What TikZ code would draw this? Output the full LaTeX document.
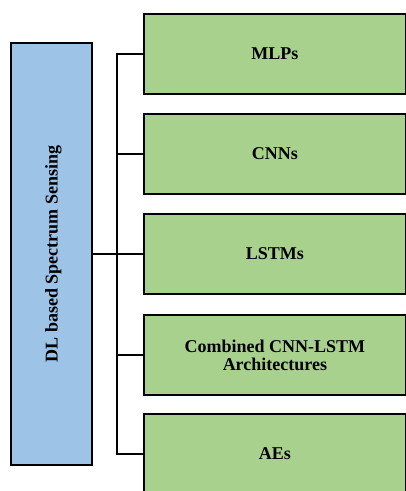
\documentclass[tikz,border=0pt]{standalone}
\usepackage{fontspec}
\setmainfont{Liberation Serif}
\begin{document}
\begin{tikzpicture}[x=1pt,y=-1pt,
  catbox/.style={draw=black, line width=1.8pt, fill=catgreen, minimum width=262pt, minimum height=80pt, anchor=north west, inner sep=2pt, align=center, font=\fontsize{18}{18}\selectfont\bfseries},
  rootbox/.style={draw=black, line width=1.8pt, fill=rootblue, minimum width=81pt, minimum height=422pt, anchor=north west, inner sep=0pt},
  link/.style={draw=black, line width=1.3pt}]
\definecolor{rootblue}{HTML}{9DC3E6}
\definecolor{catgreen}{HTML}{A9D18E}
\useasboundingbox (0,0) rectangle (406,491);
\clip (0,0) rectangle (406,491);
% root box with vertical title
\node[rootbox] (root) at (10,42) {};
\node[rotate=90, font=\fontsize{18}{18}\selectfont\bfseries] (title) at ([xshift=2pt]root.center) {DL based Spectrum Sensing};
% category boxes
\node[catbox] (mlp) at (143,13) {MLPs};
\node[catbox] (cnn) at (143,113) {CNNs};
\node[catbox] (lstm) at (143,213) {LSTMs};
\node[catbox] (comb) at (143,314) {Combined CNN-LSTM\\Architectures};
\node[catbox] (ae) at (143,413) {AEs};
% tree connectors
\coordinate (trunk) at (117,0);
\draw[link] (root.east) -- (root.east -| trunk);
\draw[link] (mlp.west) -- (mlp.west -| trunk) -- (ae.west -| trunk) -- (ae.west);
\draw[link] (cnn.west) -- (cnn.west -| trunk);
\draw[link] (lstm.west) -- (lstm.west -| trunk);
\draw[link] (comb.west) -- (comb.west -| trunk);
\end{tikzpicture}
\end{document}
